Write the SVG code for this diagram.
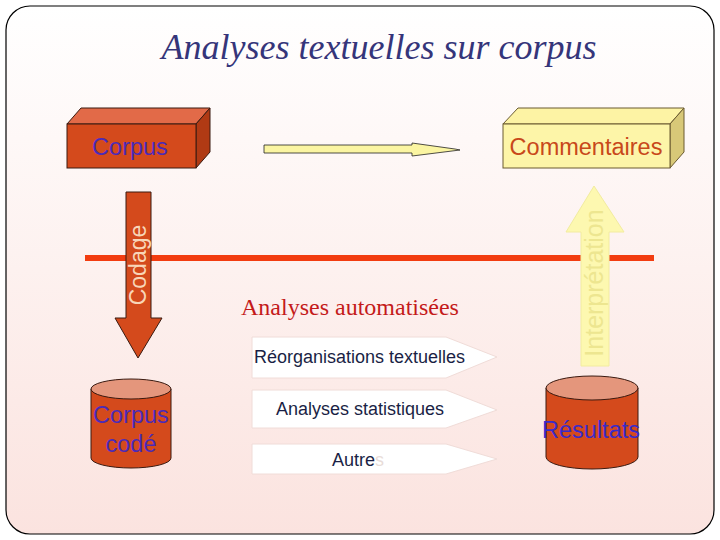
<svg xmlns="http://www.w3.org/2000/svg" width="720" height="540" viewBox="0 0 720 540">
<defs>
<linearGradient id="bg" x1="0" y1="0" x2="0" y2="1">
<stop offset="0" stop-color="#ffffff"/>
<stop offset="1" stop-color="#fbe3df"/>
</linearGradient>
<style>
.sans{font-family:"Liberation Sans",Arial,sans-serif}
.serif{font-family:"Liberation Serif","Times New Roman",serif}
.edge{stroke:#3a1a10;stroke-width:1}
.tag{fill:#ffffff;stroke:#f0dcd8;stroke-width:1}
.tagtxt{font-family:"Liberation Sans",Arial,sans-serif;font-size:18px;fill:#1a1f45}
.cyl{fill:#d44a1c;stroke:#3a1a10;stroke-width:1}
.cyltop{fill:#e4967c;stroke:#3a1a10;stroke-width:1}
.blue{fill:#4b2ab8;font-size:23.5px}
</style>
</defs>
<rect x="6" y="6" width="708" height="528" rx="24" ry="24" fill="url(#bg)" stroke="#000" stroke-width="1.2"/>
<text class="serif" x="379" y="59" text-anchor="middle" font-size="36" font-style="italic" fill="#35357a">Analyses textuelles sur corpus</text>

<g id="connectors">
<line x1="85" y1="258" x2="654" y2="258" stroke="#f23c10" stroke-width="6"/>
<path d="M264,145 H412 V143 L455,149 L460,150 L412,156 V153 H264 Z" fill="#fbf5a2" stroke="#222" stroke-width="0.8"/>
</g>

<g id="codage">
<path d="M126,192 H151 V318 H162 L138,358 L115,318 H126 Z" fill="#d44a1c" class="edge"/>
<text class="sans" transform="translate(146,265) rotate(-90)" text-anchor="middle" font-size="23" fill="#f8d6b8">Codage</text>
</g>

<g id="interpretation">
<path d="M594,186 L624,232 H609 V366 H581 V232 H566 Z" fill="#fdf8b0" stroke="#f2eca0" stroke-width="1"/>
<text class="sans" transform="translate(603,283) rotate(-90)" text-anchor="middle" font-size="25" fill="#ede690">Interprétation</text>
</g>

<g id="corpus">
<path d="M67,124 L81,108 H210 L196,124 Z" fill="#e26a48" class="edge"/>
<path d="M196,124 L210,108 V152 L196,168 Z" fill="#b03a14" class="edge"/>
<rect x="67" y="124" width="129" height="44" fill="#d44a1c" class="edge"/>
<text class="sans" x="130" y="155" text-anchor="middle" font-size="23.5" fill="#4b2ab8">Corpus</text>
</g>

<g id="commentaires">
<path d="M503,124 L518,108 H684 L670,124 Z" fill="#fdf3a4" stroke="#6a5a30" stroke-width="1"/>
<path d="M670,124 L684,108 V152 L670,168 Z" fill="#d8c878" stroke="#6a5a30" stroke-width="1"/>
<rect x="503" y="124" width="167" height="44" fill="#fdf5a8" stroke="#6a5a30" stroke-width="1"/>
<text class="sans" x="586" y="155" text-anchor="middle" font-size="23.5" fill="#c8481a">Commentaires</text>
</g>

<g id="analyses-automatisees">
<text class="serif" x="350" y="315" text-anchor="middle" font-size="24" fill="#c41a1a">Analyses automatisées</text>
</g>

<g id="reorganisations">
<path d="M252,337 H446 L497,357 L446,378 H252 Z" class="tag"/>
<text class="tagtxt" x="254" y="363">Réorganisations textuelles</text>
</g>
<g id="statistiques">
<path d="M252,390 H446 L497,410 L446,428 H252 Z" class="tag"/>
<text class="tagtxt" x="360" y="415" text-anchor="middle">Analyses statistiques</text>
</g>
<g id="autres">
<path d="M252,444 H446 L497,459 L446,474 H252 Z" class="tag"/>
<text class="tagtxt" x="358" y="466" text-anchor="middle">Autre<tspan fill="#e8dcd8">s</tspan></text>
</g>

<g id="corpus-code">
<path d="M91,389 V458 A40,10 0 0 0 171,458 V389 Z" class="cyl"/>
<ellipse cx="131" cy="389" rx="40" ry="10" class="cyltop"/>
<text class="sans blue" x="131" y="423" text-anchor="middle">Corpus</text>
<text class="sans blue" x="131" y="452" text-anchor="middle">codé</text>
</g>

<g id="resultats">
<path d="M546,388 V457 A46,12 0 0 0 638,457 V388 Z" class="cyl"/>
<ellipse cx="592" cy="388" rx="46" ry="12" class="cyltop"/>
<text class="sans" x="591" y="438" text-anchor="middle" font-size="23.5" fill="#3a2ac8">Résultats</text>
</g>
</svg>
